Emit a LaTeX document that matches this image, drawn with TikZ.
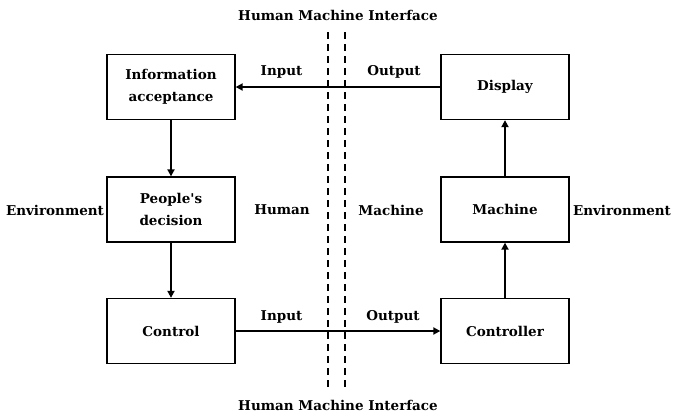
\documentclass[tikz,border=0pt]{standalone}
\usepackage{fontspec}
\setmainfont{DejaVu Serif}
\usetikzlibrary{arrows.meta}
\begin{document}
\begin{tikzpicture}[x=1pt,y=-1pt,
  box/.style={draw,line width=1.3pt,minimum width=128pt,minimum height=65pt,align=center,font=\bfseries\fontsize{13.5}{22}\selectfont},
  lbl/.style={font=\bfseries\fontsize{13.5}{16}\selectfont},
  arr/.style={line width=1.8pt,-{Triangle[length=7pt,width=7pt]}},
  iface/.style={line width=1.6pt,dash pattern=on 7pt off 5pt}]
\useasboundingbox (0,0) rectangle (673,416);
\node[box] (info) at (171,87) {Information\\acceptance};
\node[box] (dec) at (171,209.5) {People\textquotesingle s\\decision};
\node[box] (ctrl) at (171,331) {Control};
\node[box] (disp) at (505,87) {Display};
\node[box] (mach) at (505,209.5) {Machine};
\node[box] (ctlr) at (505,331) {Controller};
\coordinate (d1t) at (328,32);
\coordinate (d1b) at (328,389);
\coordinate (d2t) at (345,32);
\coordinate (d2b) at (345,389);
\draw[iface] (d1t) -- (d1b);
\draw[iface] (d2t) -- (d2b);
\draw[arr] (disp) -- (info);
\draw[arr] (ctrl) -- (ctlr);
\draw[arr] (info) -- (dec);
\draw[arr] (dec) -- (ctrl);
\draw[arr] (ctlr) -- (mach);
\draw[arr] (mach) -- (disp);
\node[lbl] (hmit) at (338,15) {Human Machine Interface};
\node[lbl] (hmib) at (338,405) {Human Machine Interface};
\node[lbl] (in1) at (281.5,72) {Input};
\node[lbl] (out1) at (394,72) {Output};
\node[lbl] (in2) at (281.5,317) {Input};
\node[lbl] (out2) at (393,317) {Output};
\node[lbl] (envl) at (55,210) {Environment};
\node[lbl] (hum) at (282,210) {Human};
\node[lbl] (mac) at (391,210) {Machine};
\node[lbl] (envr) at (622,210) {Environment};
\end{tikzpicture}
\end{document}
